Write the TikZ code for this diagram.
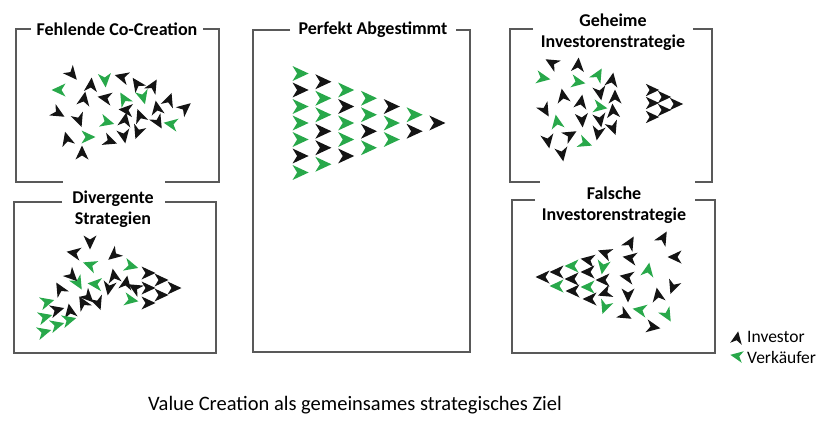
\documentclass[tikz,border=0pt]{standalone}
\usepackage{fontspec}
\setmainfont{Carlito}
\definecolor{G}{RGB}{40,168,74}
\definecolor{B}{RGB}{20,20,20}
\newcommand{\titelfont}{\fontsize{18}{21}\selectfont\bfseries}
\newcommand{\schrift}{\fontsize{20.5}{24}\selectfont}
\newcommand{\legendenschrift}{\fontsize{17.5}{18}\selectfont}
\tikzset{
  rahmen/.style={draw=black!65, line width=1.2pt},
  titel/.style={font=\titelfont, align=center, inner sep=0pt},
  pics/pfeil/.style={code={\fill[#1] (7.5,0) -- (-6.5,6.5) -- (-2.5,0) -- (-6.5,-6.5) -- cycle;}},
}

\begin{document}
\begin{tikzpicture}[x=1pt,y=-1pt]
\useasboundingbox (0,0) rectangle (830,426);

% frames
\draw[rahmen] (31,29) -- (16,29) -- (16,182) -- (63,182);
\draw[rahmen] (165,182) -- (219,182) -- (219,29) -- (203,29);
\draw[rahmen] (62,202) -- (14,202) -- (14,353) -- (216,353) -- (216,202) -- (165,202);
\draw[rahmen] (290,30) -- (253,30) -- (253,352) -- (470,352) -- (470,30) -- (456,30);
\draw[rahmen] (533,29) -- (510,29) -- (510,182) -- (540,182);
\draw[rahmen] (695,182) -- (712,182) -- (712,29) -- (693,29);
\draw[rahmen] (535,200) -- (512,200) -- (512,353) -- (715,353) -- (715,200) -- (695,200);

\node[titel] (fehlend) at (117,29) {Fehlende Co-Creation};
\node[titel] (perfekt) at (373,30) {Perfekt Abgestimmt};
\node[titel] (geheim) at (613,32) {Geheime\\Investorenstrategie};
\node[titel] (divergent) at (113,209) {Divergente\\Strategien};
\node[titel] (falsch) at (614,205) {Falsche\\Investorenstrategie};

% Fehlende Co-Creation
\foreach \x/\y/\w/\f in {72/74/-50/B, 59/90/180/G, 91/85/85/B, 105/80/-85/G,
    122/77/165/B, 137/84/125/B, 153/86/60/B, 84/99/80/B, 105/98/170/B,
    124/99/120/G, 143/97/-75/G, 169/100/70/B, 185/108/40/B, 157/108/100/B,
    126/110/175/B, 58/113/-30/B, 79/120/-70/B, 107/122/-15/G, 125/120/80/B,
    140/116/110/B, 158/122/-60/B, 171/124/170/G, 67/139/105/B, 88/137/0/G,
    110/141/-20/B, 124/136/-80/B, 138/132/-110/B, 82/153/90/B}
  \pic[rotate=\w] at (\x,\y) {pfeil=\f};

% Divergente Strategien
\foreach \x/\y/\w/\f in {90/242/-90/B, 74/253/170/B, 114/255/-140/B, 90/265/160/G,
    131/266/-15/G, 72/276/-45/B, 78/283/-60/G, 95/284/175/G, 114/276/100/B,
    109/288/-100/B, 126/283/80/B, 60/289/120/B, 131/300/-10/G, 135/288/150/B,
    88/297/-45/B, 83/303/120/B, 98/303/-70/B, 70/311/100/B,
    148/273/0/B, 148/288/0/B, 148/303/0/B, 161/280/0/B, 161/295/0/B, 174/288/0/B,
    47/302/15/G, 45/317/15/G, 44/332/15/G, 57/310/15/B, 57/325/15/G, 69/320/15/G}
  \pic[rotate=\w] at (\x,\y) {pfeil=\f};

% Perfekt Abgestimmt
\foreach \farben [count=\i from 0] in {{G,B,G,G,G,B,G},{B,G,G,B,B,G},{G,B,G,G,B},
    {G,G,B,G},{B,G,G},{G,B},{B}}
  \foreach \f [count=\j from 0] in \farben
    \pic[scale=1.15] at ({300+22.8*\i},{123+(\j-(6-\i)/2)*16.5}) {pfeil=\f};

% Geheime Investorenstrategie
\foreach \x/\y/\w/\f in {552/63/150/B, 578/65/85/B, 543/78/-10/G, 578/82/-10/G,
    598/75/60/G, 612/80/80/B, 563/96/100/B, 581/102/80/B, 600/93/-80/B,
    615/97/90/B, 600/107/-10/G, 613/111/95/B, 545/110/-60/B, 557/122/100/G,
    582/120/-85/B, 600/120/-80/B, 613/128/-70/B, 570/135/30/B, 598/133/-100/B,
    548/141/-80/B, 585/143/-20/G, 562/154/-80/B}
  \pic[rotate=\w] at (\x,\y) {pfeil=\f};
\foreach \x/\y in {652/90, 652/103, 652/117, 664/97, 664/110, 676/104}
  \pic[scale=.95] at (\x,\y) {pfeil=B};

% Falsche Investorenstrategie
\foreach \x/\y/\w/\f in {543/277/180/B, 557/272/180/B, 557/286/180/G,
    572/266/180/G, 572/279/180/B, 573/291/180/B, 588/260/170/B, 588/272/180/B,
    588/287/180/G, 590/299/180/B, 605/253/160/B, 603/267/-100/G, 603/280/180/B,
    605/293/-160/B, 605/307/-110/G, 630/243/60/B, 630/258/170/B, 627/277/170/B,
    628/295/-90/B, 625/315/-30/B, 663/238/60/B, 675/257/180/B, 648/270/80/G,
    673/287/-110/B, 658/295/100/B, 640/310/170/G, 667/315/-60/G, 653/327/-10/B}
  \pic[rotate=\w] at (\x,\y) {pfeil=\f};

% legend
\pic[rotate=80,scale=.9] at (737,338) {pfeil=B};
\pic[rotate=170,scale=.9] at (737,356) {pfeil=G};
\node[font=\legendenschrift, anchor=west, inner sep=0pt] (investor) at (747,337) {Investor};
\node[font=\legendenschrift, anchor=west, inner sep=0pt] (verkaeufer) at (747,357) {Verkäufer};

\node[font=\schrift] (ziel) at (355,405) {Value Creation als gemeinsames strategisches Ziel};

\end{tikzpicture}
\end{document}
